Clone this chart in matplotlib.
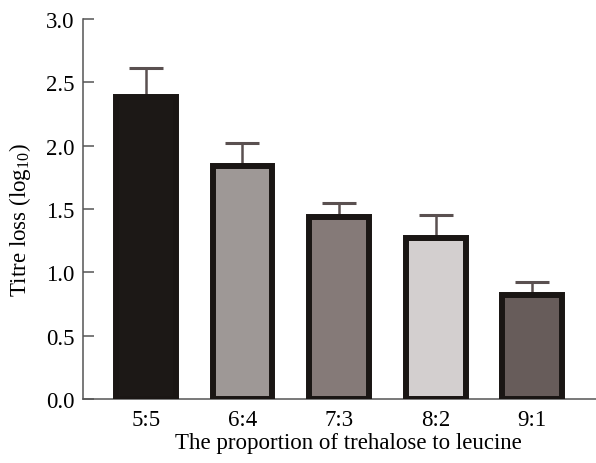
import matplotlib
matplotlib.use("Agg")
import matplotlib.pyplot as plt
import numpy as np

plt.rcParams['font.family'] = ['Liberation Serif', 'DejaVu Serif']
plt.rcParams['mathtext.fontset'] = 'custom'
plt.rcParams['mathtext.rm'] = 'Liberation Serif'

ratios = ['5:5', '6:4', '7:3', '8:2', '9:1']
loss = [2.38, 1.84, 1.44, 1.27, 0.82]
err_up = [0.23, 0.18, 0.11, 0.18, 0.10]
fills = ['#1c1816', '#9e9896', '#857a78', '#d3cfcf', '#675c5a']

fig = plt.figure(figsize=(5.96, 4.64), dpi=100)
ax = fig.add_axes([0.139, 0.138, 0.861, 0.819])

x = np.arange(len(ratios))
ax.bar(x, loss, width=0.62, color=fills, edgecolor='#1a1614', linewidth=4.3, zorder=3)

# only the upper half of the error bars
eb = ax.errorbar(x, loss, yerr=[np.zeros(len(loss)), err_up], fmt='none',
                 ecolor='#5a5050', elinewidth=1.8, capsize=12, capthick=2.2, zorder=2)
eb[1][0].set_visible(False)

ax.set_xlim(-0.653, 4.66)
ax.set_ylim(0, 3.0)
ticks = np.arange(0, 3.01, 0.5)
ax.set_yticks(ticks)
ax.set_yticklabels([f'{v:.1f}' for v in ticks])
ax.set_xticks(x)
ax.set_xticklabels(ratios)

for s in ['top', 'right']:
    ax.spines[s].set_visible(False)
for s in ['left', 'bottom']:
    ax.spines[s].set_color('#555555')
    ax.spines[s].set_linewidth(1.1)

ax.tick_params(axis='y', direction='in', length=8, width=1.1, color='#555555',
               labelsize=16.5, pad=6)
ax.tick_params(axis='x', length=0, labelsize=16.5, pad=7)

ax.set_xlabel('The proportion of trehalose to leucine', fontsize=16.5)
ax.xaxis.set_label_coords(0.517, -0.088)
ax.xaxis.label.set_va('top')
ax.set_ylabel(r'Titre loss (log$_{10}$)', fontsize=16.5)
ax.yaxis.set_label_coords(-0.097, 0.474)

fig.savefig('out.png', dpi=100)
